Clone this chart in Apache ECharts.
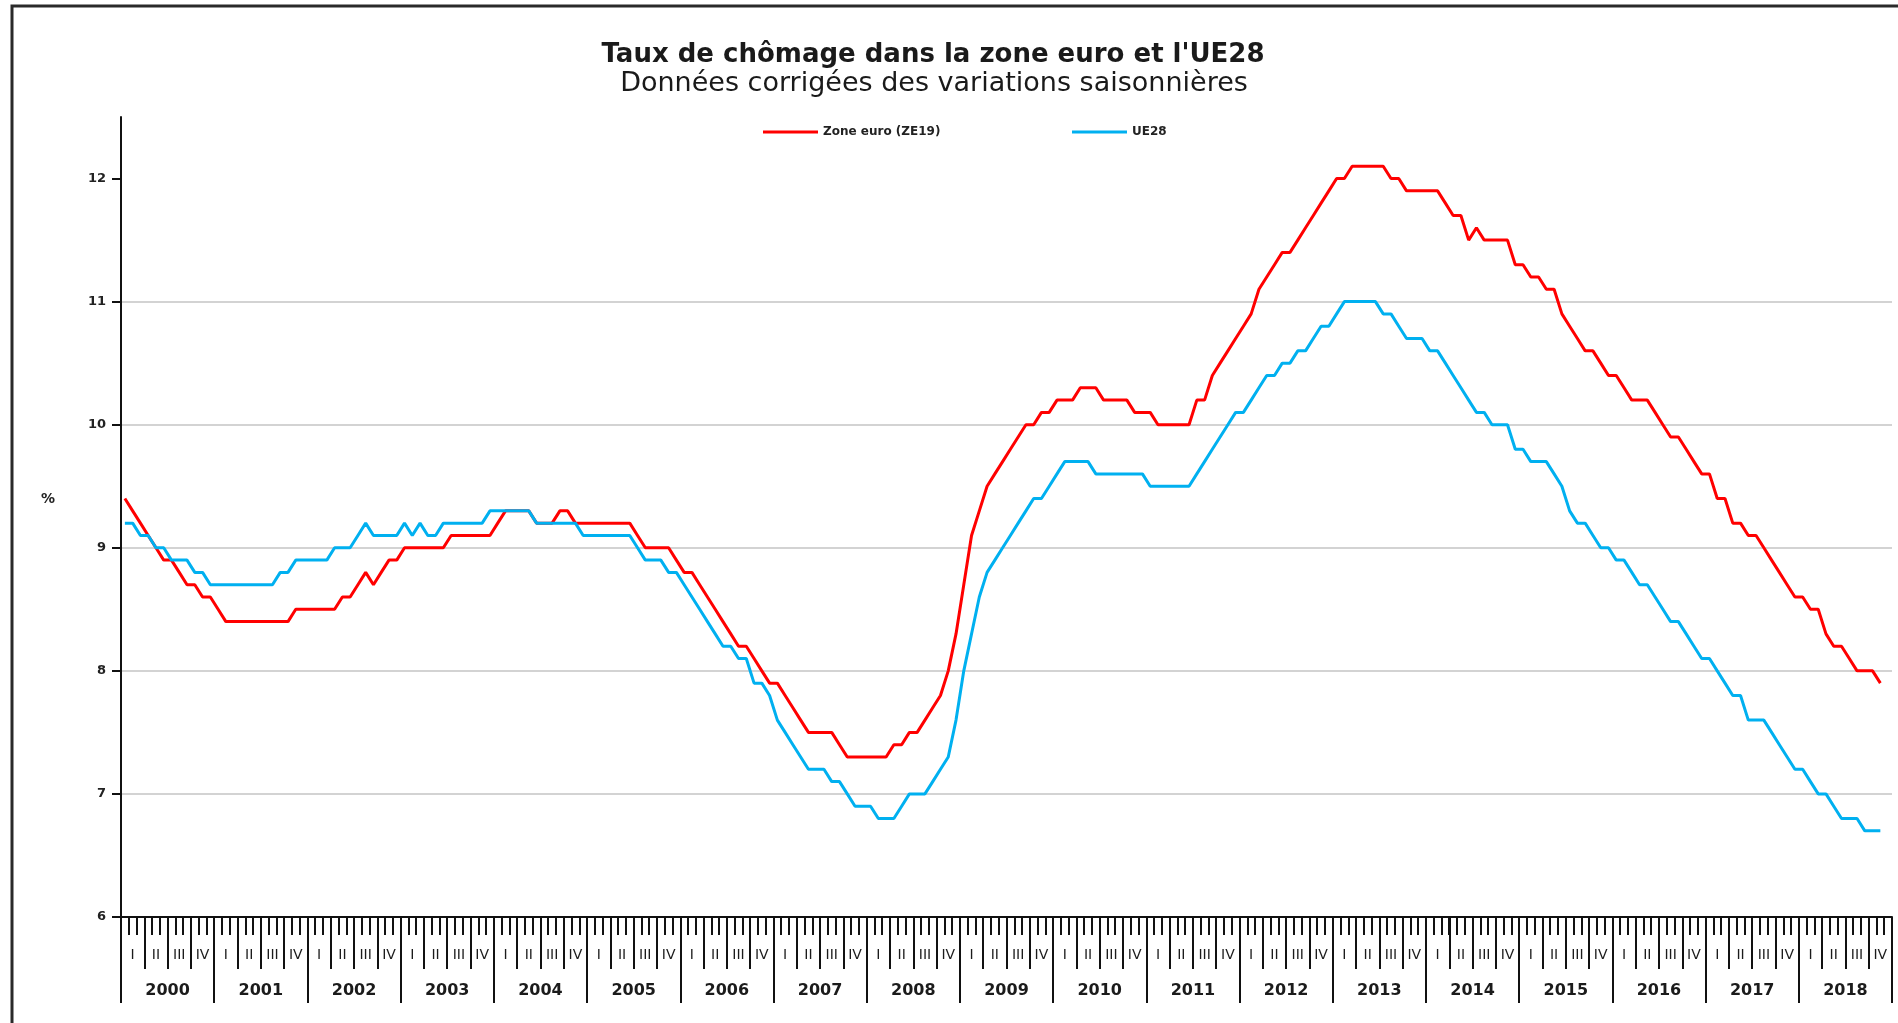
<!DOCTYPE html>
<html>
<head>
<meta charset="utf-8">
<title>Taux de chômage ZE19 / UE28</title>
<script src="https://cdn.jsdelivr.net/npm/echarts@6/dist/echarts.min.js"></script>
<style>
  html, body { margin: 0; padding: 0; background: #fff; }
  #chart { width: 1898px; height: 1023px; }
</style>
</head>
<body>
<div id="chart"></div>
<script>
// axe des x : années et trimestres
const years = [2000, 2001, 2002, 2003, 2004, 2005, 2006, 2007, 2008, 2009,
  2010, 2011, 2012, 2013, 2014, 2015, 2016, 2017, 2018]
const quarterNames = ['I', 'II', 'III', 'IV']
const yTicks = [6, 7, 8, 9, 10, 11, 12]

// taux de chômage mensuel (cvs), janv. 2000 -> nov. 2018
const zoneEuro = [
  9.4, 9.3, 9.2, 9.1, 9.0, 8.9, 8.9, 8.8, 8.7, 8.7, 8.6, 8.6,
  8.5, 8.4, 8.4, 8.4, 8.4, 8.4, 8.4, 8.4, 8.4, 8.4, 8.5, 8.5,
  8.5, 8.5, 8.5, 8.5, 8.6, 8.6, 8.7, 8.8, 8.7, 8.8, 8.9, 8.9,
  9.0, 9.0, 9.0, 9.0, 9.0, 9.0, 9.1, 9.1, 9.1, 9.1, 9.1, 9.1,
  9.2, 9.3, 9.3, 9.3, 9.3, 9.2, 9.2, 9.2, 9.3, 9.3, 9.2, 9.2,
  9.2, 9.2, 9.2, 9.2, 9.2, 9.2, 9.1, 9.0, 9.0, 9.0, 9.0, 8.9,
  8.8, 8.8, 8.7, 8.6, 8.5, 8.4, 8.3, 8.2, 8.2, 8.1, 8.0, 7.9,
  7.9, 7.8, 7.7, 7.6, 7.5, 7.5, 7.5, 7.5, 7.4, 7.3, 7.3, 7.3,
  7.3, 7.3, 7.3, 7.4, 7.4, 7.5, 7.5, 7.6, 7.7, 7.8, 8.0, 8.3,
  8.7, 9.1, 9.3, 9.5, 9.6, 9.7, 9.8, 9.9, 10.0, 10.0, 10.1, 10.1,
  10.2, 10.2, 10.2, 10.3, 10.3, 10.3, 10.2, 10.2, 10.2, 10.2, 10.1, 10.1,
  10.1, 10.0, 10.0, 10.0, 10.0, 10.0, 10.2, 10.2, 10.4, 10.5, 10.6, 10.7,
  10.8, 10.9, 11.1, 11.2, 11.3, 11.4, 11.4, 11.5, 11.6, 11.7, 11.8, 11.9,
  12.0, 12.0, 12.1, 12.1, 12.1, 12.1, 12.1, 12.0, 12.0, 11.9, 11.9, 11.9,
  11.9, 11.9, 11.8, 11.7, 11.7, 11.5, 11.6, 11.5, 11.5, 11.5, 11.5, 11.3,
  11.3, 11.2, 11.2, 11.1, 11.1, 10.9, 10.8, 10.7, 10.6, 10.6, 10.5, 10.4,
  10.4, 10.3, 10.2, 10.2, 10.2, 10.1, 10.0, 9.9, 9.9, 9.8, 9.7, 9.6,
  9.6, 9.4, 9.4, 9.2, 9.2, 9.1, 9.1, 9.0, 8.9, 8.8, 8.7, 8.6,
  8.6, 8.5, 8.5, 8.3, 8.2, 8.2, 8.1, 8.0, 8.0, 8.0, 7.9
]
const ue28 = [
  9.2, 9.2, 9.1, 9.1, 9.0, 9.0, 8.9, 8.9, 8.9, 8.8, 8.8, 8.7,
  8.7, 8.7, 8.7, 8.7, 8.7, 8.7, 8.7, 8.7, 8.8, 8.8, 8.9, 8.9,
  8.9, 8.9, 8.9, 9.0, 9.0, 9.0, 9.1, 9.2, 9.1, 9.1, 9.1, 9.1,
  9.2, 9.1, 9.2, 9.1, 9.1, 9.2, 9.2, 9.2, 9.2, 9.2, 9.2, 9.3,
  9.3, 9.3, 9.3, 9.3, 9.3, 9.2, 9.2, 9.2, 9.2, 9.2, 9.2, 9.1,
  9.1, 9.1, 9.1, 9.1, 9.1, 9.1, 9.0, 8.9, 8.9, 8.9, 8.8, 8.8,
  8.7, 8.6, 8.5, 8.4, 8.3, 8.2, 8.2, 8.1, 8.1, 7.9, 7.9, 7.8,
  7.6, 7.5, 7.4, 7.3, 7.2, 7.2, 7.2, 7.1, 7.1, 7.0, 6.9, 6.9,
  6.9, 6.8, 6.8, 6.8, 6.9, 7.0, 7.0, 7.0, 7.1, 7.2, 7.3, 7.6,
  8.0, 8.3, 8.6, 8.8, 8.9, 9.0, 9.1, 9.2, 9.3, 9.4, 9.4, 9.5,
  9.6, 9.7, 9.7, 9.7, 9.7, 9.6, 9.6, 9.6, 9.6, 9.6, 9.6, 9.6,
  9.5, 9.5, 9.5, 9.5, 9.5, 9.5, 9.6, 9.7, 9.8, 9.9, 10.0, 10.1,
  10.1, 10.2, 10.3, 10.4, 10.4, 10.5, 10.5, 10.6, 10.6, 10.7, 10.8, 10.8,
  10.9, 11.0, 11.0, 11.0, 11.0, 11.0, 10.9, 10.9, 10.8, 10.7, 10.7, 10.7,
  10.6, 10.6, 10.5, 10.4, 10.3, 10.2, 10.1, 10.1, 10.0, 10.0, 10.0, 9.8,
  9.8, 9.7, 9.7, 9.7, 9.6, 9.5, 9.3, 9.2, 9.2, 9.1, 9.0, 9.0,
  8.9, 8.9, 8.8, 8.7, 8.7, 8.6, 8.5, 8.4, 8.4, 8.3, 8.2, 8.1,
  8.1, 8.0, 7.9, 7.8, 7.8, 7.6, 7.6, 7.6, 7.5, 7.4, 7.3, 7.2,
  7.2, 7.1, 7.0, 7.0, 6.9, 6.8, 6.8, 6.8, 6.7, 6.7, 6.7
]

const FONT = 'DejaVu Sans'
const months = years.flatMap(y => Array.from({ length: 12 }, (_, m) => y + '-' + (m + 1)))
const quarters = years.flatMap(y => quarterNames.map(q => y + ' ' + q))

const chart = echarts.init(document.getElementById('chart'))

// axe x secondaire (trimestres / années) posé sur la même grille
const levelAxis = (data, tickLen, margin, label) => ({
  type: 'category',
  gridIndex: 0,
  position: 'bottom',
  data: data,
  boundaryGap: true,
  axisLine: { show: false, onZero: false },
  axisTick: { show: true, interval: 0, length: tickLen, lineStyle: { color: '#111', width: 2 } },
  axisLabel: Object.assign({ interval: 0, margin: margin, color: '#1b1b1b', fontFamily: FONT }, label),
  splitLine: { show: false }
})

const option = {
  animation: false,
  backgroundColor: '#fff',
  title: [
    {
      text: "Taux de chômage dans la zone euro et l'UE28",
      left: 933,
      top: 40,
      padding: 0,
      textAlign: 'center',
      textStyle: { fontFamily: FONT, fontSize: 26, fontWeight: 'bold', color: '#1a1a1a', lineHeight: 30 }
    },
    {
      text: 'Données corrigées des variations saisonnières',
      left: 934,
      top: 69,
      padding: 0,
      textAlign: 'center',
      textStyle: { fontFamily: FONT, fontSize: 27, fontWeight: 'normal', color: '#1a1a1a', lineHeight: 30 }
    }
  ],
  legend: [
    {
      data: ['Zone euro (ZE19)'],
      left: 763,
      top: 126,
      padding: 0,
      icon: 'rect',
      itemWidth: 55,
      itemHeight: 3,
      selectedMode: false,
      textStyle: { fontFamily: FONT, fontSize: 12, fontWeight: 'bold', color: '#222' }
    },
    {
      data: ['UE28'],
      left: 1072,
      top: 126,
      padding: 0,
      icon: 'rect',
      itemWidth: 55,
      itemHeight: 3,
      selectedMode: false,
      textStyle: { fontFamily: FONT, fontSize: 12, fontWeight: 'bold', color: '#222' }
    }
  ],
  grid: {
    left: 121,
    right: 6,
    top: 117,
    bottom: 106,
    containLabel: false,
    outerBoundsMode: 'none'
  },
  xAxis: [
    {
      type: 'category',
      position: 'bottom',
      data: months,
      boundaryGap: true,
      axisLine: { show: true, onZero: false, lineStyle: { color: '#111', width: 2 } },
      axisTick: { show: true, interval: 0, length: 18, lineStyle: { color: '#111', width: 2 } },
      axisLabel: { show: false },
      splitLine: { show: false }
    },
    levelAxis(quarters, 52, 31, { fontSize: 14, formatter: v => v.split(' ')[1] }),
    levelAxis(years, 86, 66, { fontSize: 16, fontWeight: 'bold' })
  ],
  yAxis: {
    type: 'value',
    min: 6,
    max: 12.5,
    interval: 1,
    name: '%',
    nameLocation: 'middle',
    nameRotate: 0,
    nameGap: 66,
    nameTextStyle: {
      fontFamily: FONT, fontSize: 14, fontWeight: 'bold', color: '#222',
      verticalAlign: 'bottom', lineHeight: 36
    },
    axisLine: { show: true, lineStyle: { color: '#111', width: 2 } },
    axisTick: { show: true, length: 9, customValues: yTicks, lineStyle: { color: '#111', width: 2 } },
    axisLabel: { customValues: yTicks, margin: 15, fontFamily: FONT, fontSize: 13, fontWeight: 'bold', color: '#222' },
    splitLine: { show: true, showMaxLine: false, lineStyle: { color: '#c4c4c4', width: 1.5 } }
  },
  series: [
    {
      name: 'Zone euro (ZE19)',
      type: 'line',
      xAxisIndex: 0,
      data: zoneEuro,
      showSymbol: false,
      smooth: false,
      color: '#ff0000',
      lineStyle: { color: '#ff0000', width: 3 },
      emphasis: { disabled: true }
    },
    {
      name: 'UE28',
      type: 'line',
      xAxisIndex: 0,
      data: ue28,
      showSymbol: false,
      smooth: false,
      color: '#00b0f0',
      lineStyle: { color: '#00b0f0', width: 3 },
      emphasis: { disabled: true }
    }
  ],
  graphic: [
    {
      // cadre du graphique (gauche + haut)
      type: 'polyline',
      silent: true,
      shape: { points: [[12, 1040], [12, 6], [1910, 6]] },
      style: { stroke: '#2a2a2a', lineWidth: 3, fill: null }
    }
  ]
}

chart.setOption(option)
</script>
</body>
</html>
